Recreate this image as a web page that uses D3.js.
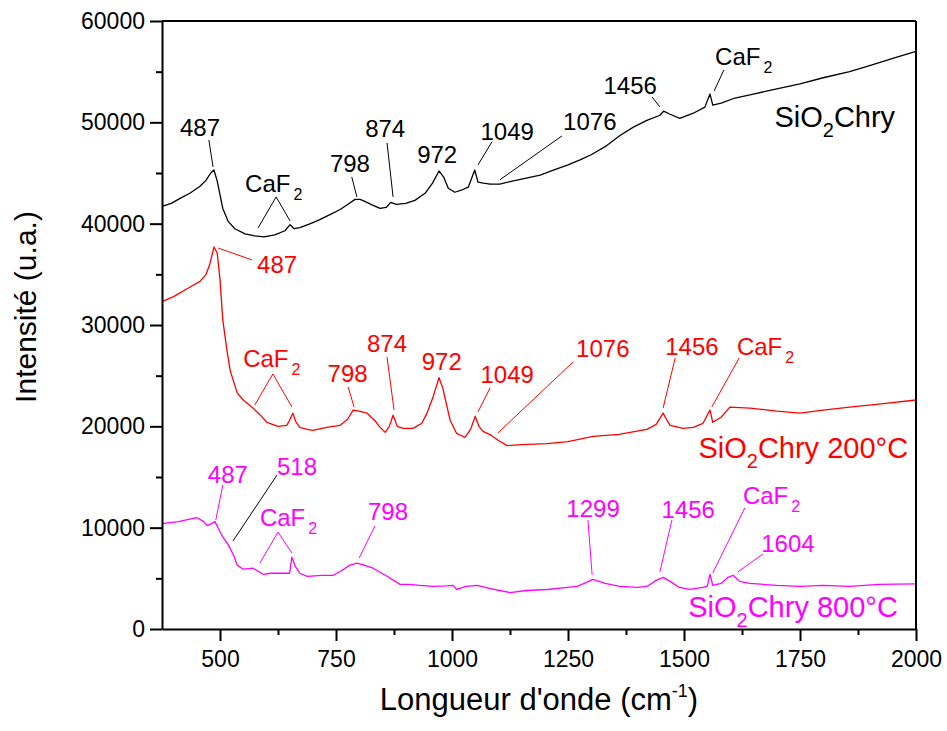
<!DOCTYPE html>
<html>
<head>
<meta charset="utf-8">
<script src="https://cdn.jsdelivr.net/npm/d3@7"></script>
<style>
  body { margin: 0; background: #fff; }
  text { font-family: "Liberation Sans", Arial, sans-serif; }
</style>
</head>
<body>
<script>

var width = 947;
var height = 731;
var margin = { top: 21, right: 31, bottom: 102, left: 162 };
var w = width - margin.left - margin.right;
var h = height - margin.top - margin.bottom;

// spectra: wavenumber (cm-1) and intensity (u.a.)
var blackX = [375, 395, 414, 435, 457, 470, 480, 487, 494, 506, 518, 532, 554, 575, 595, 618, 640, 651, 660, 672, 695, 715, 737, 759, 775, 791, 802, 812, 830, 845, 858, 868, 880, 900, 920, 942, 958, 972, 982, 992, 1006, 1020, 1035, 1049, 1056, 1068, 1082, 1103, 1130, 1160, 1190, 1220, 1250, 1276, 1300, 1330, 1362, 1390, 1420, 1448, 1456, 1470, 1491, 1520, 1545, 1556, 1562, 1580, 1610, 1642, 1680, 1720, 1750, 1800, 1857, 1900, 1950, 2000];
var blackY = [41700, 42000, 42500, 43000, 43700, 44300, 45000, 45300, 44200, 41500, 40200, 39500, 39000, 38800, 38700, 38900, 39300, 39900, 39500, 39600, 40000, 40400, 40900, 41400, 41900, 42400, 42400, 42200, 41800, 41500, 41600, 42100, 41900, 42000, 42300, 43000, 44000, 45200, 44600, 43500, 43100, 43300, 43600, 45300, 44100, 44000, 43900, 43900, 44200, 44500, 44800, 45300, 45800, 46300, 46800, 47600, 48700, 49500, 50200, 50700, 51100, 50800, 50400, 50900, 51500, 52800, 51700, 51900, 52400, 52700, 53100, 53500, 53800, 54400, 55000, 55600, 56300, 57000];

var redX = [375, 400, 430, 457, 470, 478, 487, 494, 500, 506, 515, 522, 537, 550, 558, 571, 585, 601, 625, 644, 650, 657, 663, 672, 688, 700, 730, 759, 775, 787, 800, 817, 835, 845, 856, 865, 873, 882, 895, 916, 935, 946, 960, 972, 980, 996, 1010, 1028, 1040, 1050, 1058, 1067, 1085, 1100, 1119, 1150, 1205, 1250, 1304, 1360, 1420, 1440, 1455, 1462, 1470, 1498, 1520, 1541, 1556, 1562, 1580, 1599, 1642, 1700, 1750, 1800, 1857, 1920, 2000];
var redY = [32300, 32800, 33600, 34300, 35000, 36000, 37700, 37100, 34500, 30500, 27500, 25500, 23300, 22600, 22300, 21800, 21200, 20400, 20000, 20100, 20600, 21300, 20500, 19900, 19700, 19600, 19900, 20100, 20700, 21600, 21500, 21300, 20500, 19900, 19400, 20000, 21100, 20000, 19800, 19800, 20300, 21300, 23000, 24800, 23800, 20600, 19300, 18900, 19700, 21000, 20000, 19500, 19100, 18600, 18100, 18200, 18300, 18500, 19000, 19200, 19700, 20200, 21300, 20700, 20100, 19800, 19900, 20300, 21600, 20400, 20900, 21900, 21800, 21500, 21300, 21600, 21900, 22200, 22600];

var pinkX = [375, 410, 450, 465, 472, 482, 489, 500, 506, 518, 530, 537, 550, 571, 593, 610, 640, 650, 655, 662, 672, 688, 720, 744, 760, 780, 795, 810, 830, 860, 888, 910, 931, 960, 990, 1002, 1010, 1030, 1054, 1080, 1125, 1160, 1205, 1248, 1270, 1290, 1304, 1330, 1362, 1400, 1420, 1440, 1455, 1470, 1490, 1513, 1540, 1550, 1556, 1562, 1580, 1595, 1606, 1620, 1642, 1700, 1750, 1800, 1857, 1920, 2000];
var pinkY = [10400, 10600, 11000, 10600, 10200, 10400, 10600, 9600, 9100, 8300, 7200, 6300, 5900, 6000, 5400, 5500, 5500, 5500, 7100, 6200, 5500, 5200, 5300, 5300, 5700, 6300, 6500, 6300, 6000, 5200, 4400, 4400, 4300, 4200, 4250, 4300, 3900, 4200, 4300, 4000, 3600, 3800, 3900, 4100, 4200, 4600, 4900, 4500, 4200, 4100, 4200, 4800, 5100, 4700, 4100, 3900, 4100, 4200, 5400, 4300, 4500, 5100, 5300, 4700, 4500, 4300, 4200, 4300, 4200, 4400, 4450];

var xTicks = [500, 750, 1000, 1250, 1500, 1750, 2000];
var yTicks = [0, 10000, 20000, 30000, 40000, 50000, 60000];

// peak labels: text, anchor (wavenumber, intensity), leader lines [x1, y1, x2, y2]
var blackLabels = [
    { t: "487", x: 457, y: 48660, lines: [[476, 48260, 485, 45600]] },
    { t: "CaF", sub: "2", a: "start", x: 554, y: 43130, lines: [[621, 42640, 582, 39580], [621, 42640, 651, 40270]] },
    { t: "798", x: 780, y: 45110, lines: [[784, 44610, 795, 42640]] },
    { t: "874", x: 856, y: 48560, lines: [[860, 47970, 873, 42640]] },
    { t: "972", x: 968, y: 45990, lines: [] },
    { t: "1049", x: 1119, y: 48260, lines: [[1086, 48070, 1056, 45800]] },
    { t: "1076", x: 1297, y: 49250, lines: [[1237, 48660, 1103, 44320]] },
    { t: "1456", x: 1384, y: 52800, lines: [[1431, 52510, 1448, 51520]] },
    { t: "CaF", sub: "2", a: "start", x: 1567, y: 55670, lines: [[1586, 55170, 1565, 53100]] }
];
var redLabels = [
    { t: "487", a: "start", x: 580, y: 35140, lines: [[496, 37600, 569, 36420]] },
    { t: "CaF", sub: "2", a: "start", x: 550, y: 25860, lines: [[614, 25170, 575, 22110], [614, 25170, 655, 21910]] },
    { t: "798", x: 775, y: 24380, lines: [[776, 23890, 789, 21910]] },
    { t: "874", x: 860, y: 27340, lines: [[860, 26850, 875, 21620]] },
    { t: "972", x: 978, y: 25560, lines: [] },
    { t: "1049", x: 1119, y: 24280, lines: [[1082, 23790, 1056, 21420]] },
    { t: "1076", x: 1325, y: 26850, lines: [[1261, 26350, 1099, 19350]] },
    { t: "1456", x: 1517, y: 27040, lines: [[1481, 26750, 1455, 21810]] },
    { t: "CaF", sub: "2", a: "start", x: 1614, y: 27040, lines: [[1619, 26750, 1560, 21910]] }
];
var pinkLabels = [
    { t: "487", x: 517, y: 14410, lines: [[506, 14210, 491, 10760]] },
    { t: "518", x: 666, y: 15200, lines: [[623, 15200, 528, 8690]], lineColor: "#000" },
    { t: "CaF", sub: "2", a: "start", x: 586, y: 10170, lines: [[625, 9570, 586, 6510], [625, 9570, 655, 7500]] },
    { t: "798", x: 862, y: 10760, lines: [[834, 10170, 800, 7010]] },
    { t: "1299", x: 1304, y: 11050, lines: [[1293, 10760, 1302, 5330]] },
    { t: "1456", x: 1509, y: 10960, lines: [[1474, 10760, 1448, 5630]] },
    { t: "CaF", sub: "2", a: "start", x: 1627, y: 12340, lines: [[1631, 11940, 1562, 5530]] },
    { t: "1604", x: 1724, y: 7600, lines: [[1670, 7400, 1616, 5630]] }
];

// series names, placed at the right end of each curve
var seriesNames = [
    { pre: "SiO", post: "Chry", x: 1955, y: 49550, color: "#000000" },
    { pre: "SiO", post: "Chry 200°C", x: 1983, y: 16880, color: "#ff0000" },
    { pre: "SiO", post: "Chry 800°C", x: 1961, y: 1180, color: "#ff00ff" }
];

var svg = d3.select("body")
    .append("svg")
    .attr("width", width)
    .attr("height", height)
    .append("g")
    .attr("transform", "translate(" + margin.left + "," + margin.top + ")");

var xScale = d3.scaleLinear()
    .domain([375, 2000])
    .range([0, w]);

var yScale = d3.scaleLinear()
    .domain([0, 60000])
    .range([h, 0]);

var line = d3.line()
    .x(function (d) { return xScale(d[0]); })
    .y(function (d) { return yScale(d[1]); });

function drawSeries(xs, ys, color) {
    var pts = xs.map(function (x, i) { return [x, ys[i]]; });
    svg.append("path")
        .datum(pts)
        .attr("fill", "none")
        .attr("stroke", color)
        .attr("stroke-width", 1.3)
        .attr("stroke-linejoin", "round")
        .attr("d", line);
}

drawSeries(blackX, blackY, "#000000");
drawSeries(redX, redY, "#ff0000");
drawSeries(pinkX, pinkY, "#ff00ff");

// peak annotations
function drawLabels(labels, color) {
    labels.forEach(function (d) {
        d.lines.forEach(function (l) {
            svg.append("line")
                .attr("x1", xScale(l[0]))
                .attr("y1", yScale(l[1]))
                .attr("x2", xScale(l[2]))
                .attr("y2", yScale(l[3]))
                .attr("stroke", d.lineColor || color)
                .attr("stroke-width", 1);
        });
        var t = svg.append("text")
            .attr("x", xScale(d.x))
            .attr("y", yScale(d.y))
            .attr("text-anchor", d.a || "middle")
            .attr("font-size", 24)
            .attr("fill", color)
            .text(d.t);
        if (d.sub) {
            t.append("tspan")
                .attr("font-size", 16)
                .attr("dx", 3)
                .attr("dy", 8)
                .text(d.sub);
        }
    });
}

drawLabels(blackLabels, "#000000");
drawLabels(redLabels, "#ff0000");
drawLabels(pinkLabels, "#ff00ff");

seriesNames.forEach(function (d) {
    var t = svg.append("text")
        .attr("x", xScale(d.x))
        .attr("y", yScale(d.y))
        .attr("text-anchor", "end")
        .attr("font-size", 29)
        .attr("fill", d.color);
    t.append("tspan").text(d.pre);
    t.append("tspan").attr("font-size", 20).attr("dy", 10).text("2");
    t.append("tspan").attr("dy", -10).text(d.post);
});

// minor ticks
svg.append("g")
    .attr("transform", "translate(0," + h + ")")
    .call(d3.axisBottom(xScale).tickValues(d3.range(625, 2000, 250)).tickSize(6).tickFormat(""))
    .call(function (g) { g.select(".domain").remove(); })
    .selectAll("line").attr("stroke-width", 2);

svg.append("g")
    .call(d3.axisLeft(yScale).tickValues(d3.range(5000, 60000, 10000)).tickSize(6).tickFormat(""))
    .call(function (g) { g.select(".domain").remove(); })
    .selectAll("line").attr("stroke-width", 2);

// X axis
svg.append("g")
    .attr("class", "x-axis")
    .attr("transform", "translate(0," + h + ")")
    .call(d3.axisBottom(xScale).tickValues(xTicks).tickSize(12).tickSizeOuter(0).tickPadding(10)
        .tickFormat(d3.format("d")));

// Y axis
svg.append("g")
    .attr("class", "y-axis")
    .call(d3.axisLeft(yScale).tickValues(yTicks).tickSize(12).tickSizeOuter(0).tickPadding(5)
        .tickFormat(d3.format("d")));

svg.selectAll(".x-axis text, .y-axis text")
    .attr("font-size", 23)
    .attr("font-family", "'Liberation Sans', Arial, sans-serif")
    .attr("fill", "#000");
svg.selectAll(".x-axis line, .y-axis line, .domain")
    .attr("stroke-width", 2);

// top and right frame
svg.append("line")
    .attr("x1", 0).attr("x2", w).attr("y1", 0).attr("y2", 0)
    .attr("stroke", "#000").attr("stroke-width", 2);
svg.append("line")
    .attr("x1", w).attr("x2", w).attr("y1", 0).attr("y2", h)
    .attr("stroke", "#000").attr("stroke-width", 2);

// axis titles
var xt = svg.append("text")
    .attr("x", w / 2)
    .attr("y", h + 81)
    .attr("text-anchor", "middle")
    .attr("font-size", 31)
    .text("Longueur d'onde (cm");
xt.append("tspan").attr("font-size", 18).attr("dy", -13).text("-1");
xt.append("tspan").attr("dy", 13).text(")");

svg.append("text")
    .attr("transform", "translate(" + (-126) + "," + (h / 2 - 18) + ") rotate(-90)")
    .attr("text-anchor", "middle")
    .attr("font-size", 30)
    .text("Intensité (u.a.)");

</script>
</body>
</html>
